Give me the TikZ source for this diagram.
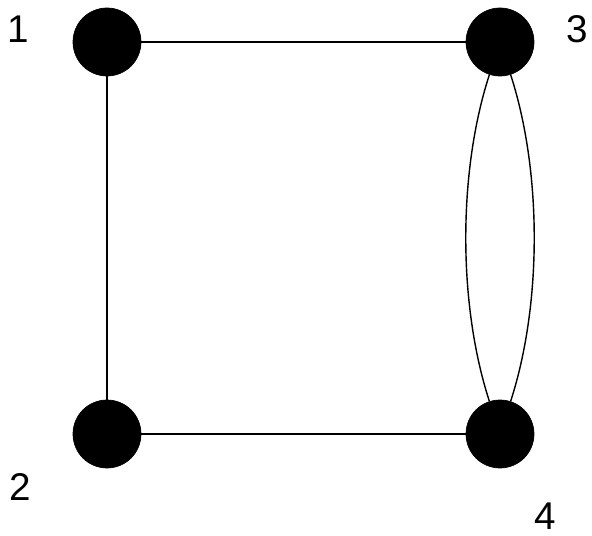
\documentclass[tikz,border=0pt]{standalone}
\usepackage{fontspec}
\setmainfont{Liberation Sans}
\usetikzlibrary{positioning}
\tikzset{
  vertex/.style={circle, fill=black, draw=black, minimum size=1.36cm, inner sep=0pt},
  vlabel/.style={font=\fontsize{22}{26}\selectfont, inner sep=0pt},
  edge/.style={draw=black, line width=0.8pt}
}
\begin{document}
\begin{tikzpicture}[x=0.02cm, y=-0.02cm]
    \useasboundingbox (0,0) rectangle (592,536);

    % Vertici
    \node[vertex] (v1) at (107,42) {};
    \node[vertex] (v2) at (107,434) {};
    \node[vertex] (v3) at (500,42) {};
    \node[vertex] (v4) at (500,434) {};

    % Etichette
    \node[vlabel] (l1) at (18,29) {1};
    \node[vlabel] (l2) at (20,487) {2};
    \node[vlabel] (l3) at (577,29) {3};
    \node[vlabel] (l4) at (545,516) {4};

    % Archi
    \draw[edge] (v1) -- (v3);
    \draw[edge] (v1) -- (v2);
    \draw[edge] (v2) -- (v4);
    \draw[edge] (v3) to[bend right=18, looseness=0.8] (v4);
    \draw[edge] (v3) to[bend left=18, looseness=0.8] (v4);

\end{tikzpicture}
\end{document}
